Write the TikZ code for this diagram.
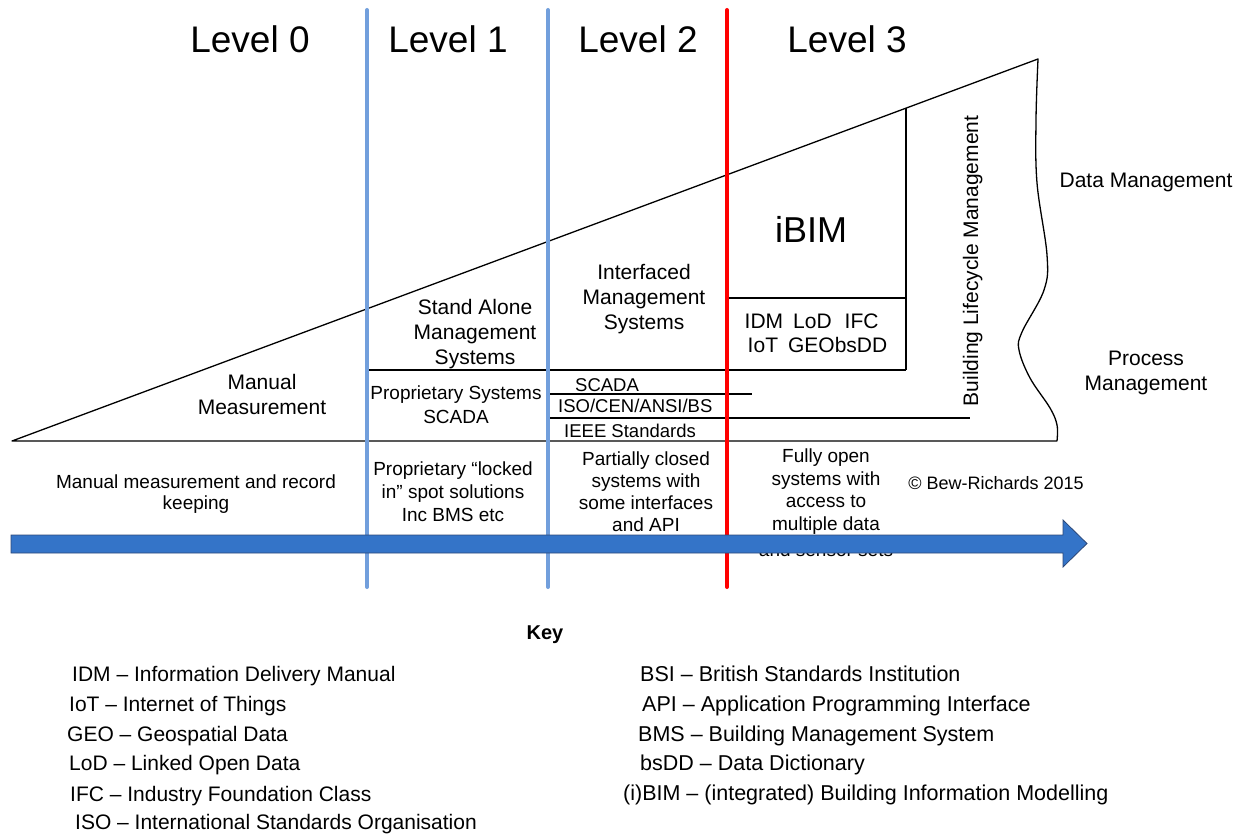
\documentclass[tikz,border=0pt]{standalone}
\usepackage{fontspec}
\setmainfont{Liberation Sans}
\definecolor{levelblue}{RGB}{114,159,220}
\definecolor{levelred}{RGB}{255,0,0}
\definecolor{arrowblue}{RGB}{52,116,200}
\definecolor{arrowedge}{RGB}{44,72,120}
\newcommand\fsz[2]{\fontsize{#1}{#2}\selectfont}
\begin{document}
\begin{tikzpicture}[x=1pt,y=-1pt,
  outline/.style={line width=1.3pt, black, line join=round},
  rule/.style={line width=1.3pt, black},
  blueline/.style={line width=4pt, levelblue, line cap=round},
  redline/.style={line width=4pt, levelred, line cap=round},
  leveltext/.style={font=\fsz{37}{40}, anchor=base, inner sep=0pt},
  big/.style={font=\fsz{21}{25}, align=center, inner sep=0pt},
  small/.style={font=\fsz{19}{22}, align=center, inner sep=0pt},
  tiny/.style={font=\fsz{18.5}{22}, anchor=base west, inner sep=0pt},
  keyitem/.style={font=\fsz{21}{25}, anchor=base west, inner sep=0pt},
  keyitemr/.style={font=\fsz{21.5}{25}, anchor=base west, inner sep=0pt},
  progress/.style={fill=arrowblue, draw=arrowedge, line width=0.8pt, line join=miter}]
\useasboundingbox (0,0) rectangle (1252,834);

% corners of the maturity wedge
\coordinate (wl) at (12,441);
\coordinate (wt) at (1038,59);
\coordinate (wb) at (1057,441);

% wedge: rising edge, wavy right edge, base
\draw[outline] (wl) -- (wt)
  -- plot[smooth, tension=0.6] coordinates {(1038,59) (1036,120) (1037,183) (1047,255)
    (1044,290) (1022,332) (1019,350) (1030,378) (1050,408) (1057,425) (1057,441)}
  -- cycle;

% iBIM box and horizontal rules
\coordinate (ibtop) at (906,108);
\coordinate (ibbot) at (906,370);
\coordinate (l1left) at (367,370);
\coordinate (ibmidl) at (727,298);
\coordinate (ibmidr) at (906,298);
\coordinate (scl) at (548,394);
\coordinate (scr) at (752,394);
\coordinate (isol) at (548,418);
\coordinate (isor) at (970,418);
\draw[rule] (ibtop) -- (ibbot);
\draw[rule] (l1left) -- (ibbot);
\draw[rule] (ibmidl) -- (ibmidr);
\draw[rule] (scl) -- (scr);
\draw[rule] (isol) -- (isor);

% level dividers
\coordinate (d1t) at (367,10);  \coordinate (d1b) at (367,587);
\coordinate (d2t) at (548,10);  \coordinate (d2b) at (548,587);
\coordinate (d3t) at (727,10);  \coordinate (d3b) at (727,587);
\draw[blueline] (d1t) -- (d1b);
\draw[blueline] (d2t) -- (d2b);
\draw[redline] (d3t) -- (d3b);

% level headings
\node[leveltext] (lev0) at (250,53) {Level 0};
\node[leveltext] (lev1) at (448,53) {Level 1};
\node[leveltext] (lev2) at (638,53) {Level 2};
\node[leveltext] (lev3) at (847,53) {Level 3};

% labels inside the wedge
\node[big] (manual) at (262,394.5) {Manual\\Measurement};
\node[big] (standalone) at (475,334.2) {Stand Alone\\Management\\Systems};
\node[font=\fsz{19}{24}, align=center, inner sep=0pt] (propsys) at (456,405) {Proprietary Systems\\SCADA};
\node[big] (interfaced) at (644,298.9) {Interfaced\\Management\\Systems};
\node[tiny] (scada) at (575,391.6) {SCADA};
\node[tiny] (iso) at (558,412.6) {ISO/CEN/ANSI/BS};
\node[tiny] (ieee) at (564,437.6) {IEEE Standards};
\node[font=\fsz{36}{40}, anchor=base, inner sep=0pt] (ibim) at (811,243) {iBIM};
\node[font=\fsz{21}{24}, align=left, inner sep=0pt] (standards) at (816,333)
  {IDM\hspace{10pt}LoD\hspace{13pt}IFC\\\hspace{3pt}IoT\hspace{10pt}GEObsDD};
\node[font=\fsz{21}{25}, rotate=90, anchor=base, inner sep=0pt] (blm) at (978,261) {Building Lifecycle Management};

% labels right of the wedge
\node[font=\fsz{21}{25}, anchor=base, inner sep=0pt] (datamgmt) at (1146,187.5) {Data Management};
\node[big] (procmgmt) at (1146,372.7) {Process\\Management};

% descriptions under the wedge
\node[font=\fsz{19}{21}, align=center, inner sep=0pt] (desc0) at (196,494.5) {Manual measurement and record\\keeping};
\node[font=\fsz{19}{23}, align=center, inner sep=0pt] (desc1) at (453,492) {Proprietary “locked\\in” spot solutions\\Inc BMS etc};
\node[small] (desc2) at (646,492) {Partially closed\\systems with\\some interfaces\\and API};
\node[font=\fsz{19}{22.5}, align=center, inner sep=0pt] (desc3) at (826,502.5) {Fully open\\systems with\\access to\\multiple data\\[3.5pt]and sensor sets};
\node[font=\fsz{18}{20}, anchor=base, inner sep=0pt] (copy) at (996,489.5) {© Bew-Richards 2015};

% progress arrow, laid over the text behind it
\draw[progress] (11,535) -- (1063,535) -- (1063,520) -- (1087,543.5)
  -- (1063,567) -- (1063,553) -- (11,553) -- cycle;

% key
\node[font=\fsz{20}{24}\bfseries, anchor=base, inner sep=0pt] (key) at (545,639) {Key};
\node[keyitem] (kidm) at (72,681.5) {IDM – Information Delivery Manual};
\node[keyitem] (kiot) at (69,711.5) {IoT – Internet of Things};
\node[keyitem] (kgeo) at (67,741.5) {GEO – Geospatial Data};
\node[keyitem] (klod) at (69,770.5) {LoD – Linked Open Data};
\node[keyitem] (kifc) at (70,801.5) {IFC – Industry Foundation Class};
\node[keyitem] (kiso) at (75,829.5) {ISO – International Standards Organisation};
\node[keyitemr] (kbsi) at (640,681.5) {BSI – British Standards Institution};
\node[keyitemr] (kapi) at (642,711.5) {API – Application Programming Interface};
\node[keyitemr] (kbms) at (638,741.5) {BMS – Building Management System};
\node[keyitemr] (kbsdd) at (640,770.5) {bsDD – Data Dictionary};
\node[keyitemr] (kbim) at (623,800.5) {(i)BIM – (integrated) Building Information Modelling};
\end{tikzpicture}
\end{document}
